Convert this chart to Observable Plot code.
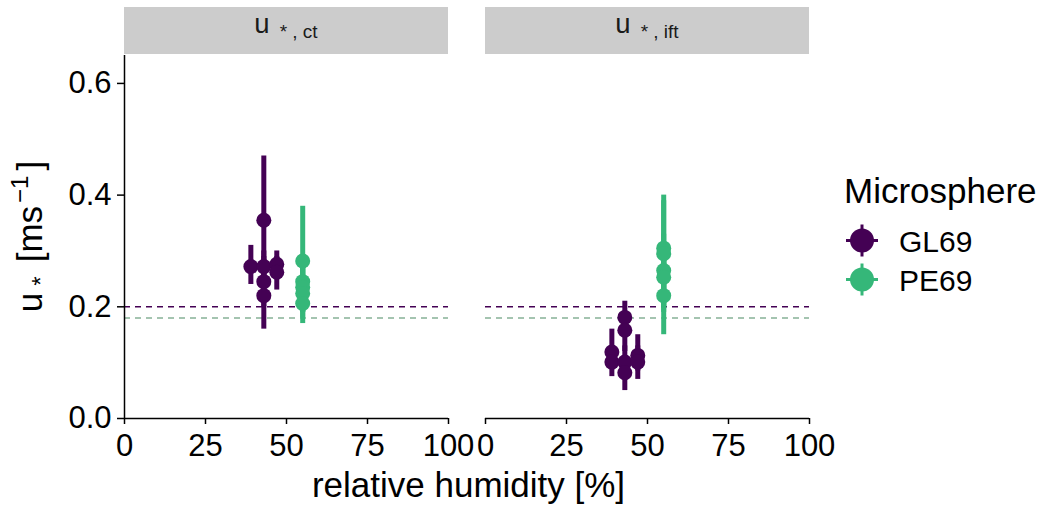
<!DOCTYPE html>
<html><head><meta charset="utf-8">
<script src="https://cdn.jsdelivr.net/npm/d3@7"></script>
<script src="https://cdn.jsdelivr.net/npm/@observablehq/plot@0.6"></script>
<style>
body{margin:0;background:#fff;}
#chart svg{font-family:"Liberation Sans", Arial, sans-serif;}
#chart svg [aria-label="x-axis tick"], #chart svg [aria-label="y-axis tick"]{stroke-width:1.5px;}
</style>
</head><body><div id="chart"></div>
<script>
// ---- data ----
const panels = ["ct", "ift"];
const groups = ["GL69", "PE69"];
const xTicks = [0, 25, 50, 75, 100];
const yTicks = [0, 0.2, 0.4, 0.6];
const xDomain = [0, 100];
const yDomain = [0, 0.65];
const thresholdGL = 0.2;
const thresholdPE = 0.18;

const ptPanel = ["ct","ct","ct","ct","ct","ct","ct", "ct","ct","ct","ct","ct",
                 "ift","ift","ift","ift","ift","ift","ift","ift", "ift","ift","ift","ift","ift"];
const ptGroup = ["GL69","GL69","GL69","GL69","GL69","GL69","GL69", "PE69","PE69","PE69","PE69","PE69",
                 "GL69","GL69","GL69","GL69","GL69","GL69","GL69","GL69", "PE69","PE69","PE69","PE69","PE69"];
const ptRH = [39,43,43,43,43,47,47, 55,55,55,55,55,
              39,39,43,43,43,43,47,47, 55,55,55,55,55];
const ptU  = [0.272,0.355,0.272,0.245,0.220,0.276,0.262, 0.282,0.245,0.235,0.224,0.206,
              0.119,0.101,0.181,0.158,0.101,0.082,0.113,0.101, 0.305,0.295,0.265,0.253,0.220];
const ptLo = [0.24,0.24,0.24,0.20,0.16,0.25,0.23, 0.19,0.20,0.19,0.18,0.17,
              0.09,0.075,0.15,0.12,0.07,0.05,0.085,0.07, 0.21,0.20,0.20,0.19,0.15];
const ptHi = [0.31,0.47,0.30,0.29,0.28,0.30,0.29, 0.38,0.29,0.28,0.27,0.24,
              0.16,0.13,0.21,0.19,0.13,0.11,0.15,0.13, 0.40,0.39,0.33,0.31,0.29];

const rows = ptU.map((u, i) => ({panel: ptPanel[i], group: ptGroup[i], rh: ptRH[i], u, lo: ptLo[i], hi: ptHi[i]}));
const colors = ["#440154", "#35B779"];

const plot = Plot.plot({
  width: 1040, height: 505,
  marginLeft: 124, marginRight: 230, marginTop: 55, marginBottom: 87,
  style: {fontFamily: "Liberation Sans, Arial, sans-serif", fontSize: "31px", color: "#000", background: "#fff"},
  fx: {domain: panels, axis: null, paddingInner: 0.1024, paddingOuter: 0},
  x: {domain: xDomain, ticks: xTicks, tickSize: 6, tickPadding: 9, label: null},
  y: {domain: yDomain, ticks: yTicks, tickFormat: d3.format(".1f"), tickSize: 7, tickPadding: 6, label: null},
  color: {domain: groups, range: colors},
  marks: [
    Plot.ruleY([thresholdGL], {stroke: colors[0], strokeWidth: 1.5, strokeDasharray: "6,5"}),
    Plot.ruleY([thresholdPE], {stroke: "#86b196", strokeWidth: 1.5, strokeDasharray: "6,5"}),
    Plot.ruleX(rows, {fx: "panel", x: "rh", y1: "lo", y2: "hi", stroke: "group", strokeWidth: 5}),
    Plot.dot(rows, {fx: "panel", x: "rh", y: "u", fill: "group", r: 7.5}),
    Plot.ruleY([yDomain[0]], {stroke: "#000", strokeWidth: 1.5}),
    Plot.ruleX([panels[0]], {fx: d => d, x: () => xDomain[0], stroke: "#000", strokeWidth: 1.5})
  ]
});
document.getElementById("chart").appendChild(plot);

// ---- strips, titles, legend ----
(function () {
const svg = d3.select(plot);
const fx = plot.scale("fx");
const ys = plot.scale("y");
const yTop = ys.apply(yDomain[1]);
const yBottom = ys.apply(yDomain[0]);
const bw = fx.bandwidth;
panels.forEach(p => {
  const left = fx.apply(p);
  svg.append("rect").attr("x", left).attr("y", yTop - 48).attr("width", bw).attr("height", 47).attr("fill", "#cccccc");
  const t = svg.append("text").attr("x", left + bw / 2).attr("y", yTop - 22)
    .attr("text-anchor", "middle").attr("font-size", 27.5).attr("fill", "#1a1a1a");
  t.append("tspan").text("u");
  t.append("tspan").attr("dx", 10).attr("dy", 5).attr("font-size", 19).text("* , " + p);
});
const leftEdge = fx.apply(panels[0]);
const rightEdge = fx.apply(panels[panels.length - 1]) + bw;
const midY = (yTop + yBottom) / 2;

// x title
svg.append("text").attr("x", (leftEdge + rightEdge) / 2 + 2).attr("y", yBottom + 79)
  .attr("text-anchor", "middle").attr("font-size", 35).text("relative humidity [%]");

// y title
const yt = svg.append("text").attr("transform", `translate(${leftEdge - 82},${midY}) rotate(-90)`)
  .attr("text-anchor", "middle").attr("font-size", 35);
yt.append("tspan").text("u");
yt.append("tspan").attr("dx", 7).attr("dy", 7).attr("font-size", 24).text("*");
yt.append("tspan").attr("dx", 14).attr("dy", -7).text("[ms");
yt.append("tspan").attr("dx", 3).attr("dy", -14).attr("font-size", 24).text("\u22121");
yt.append("tspan").attr("dx", 5).attr("dy", 14).text("]");

// legend
const color = plot.scale("color");
const lx = rightEdge + 35;
svg.append("text").attr("x", lx).attr("y", midY - 34).attr("text-anchor", "start").attr("font-size", 35).text("Microsphere");
groups.forEach((g, i) => {
  const cy = midY + 4 + i * 39;
  const cx = lx + 18;
  const c = color.apply(g);
  svg.append("line").attr("x1", cx - 16).attr("x2", cx + 16).attr("y1", cy).attr("y2", cy).attr("stroke", c).attr("stroke-width", 3);
  svg.append("line").attr("x1", cx).attr("x2", cx).attr("y1", cy - 16).attr("y2", cy + 16).attr("stroke", c).attr("stroke-width", 3);
  svg.append("circle").attr("cx", cx).attr("cy", cy).attr("r", 12).attr("fill", c);
  svg.append("text").attr("x", lx + 55).attr("y", cy + 11).attr("text-anchor", "start").attr("font-size", 30).text(g);
});
})();
</script>
</body></html>
